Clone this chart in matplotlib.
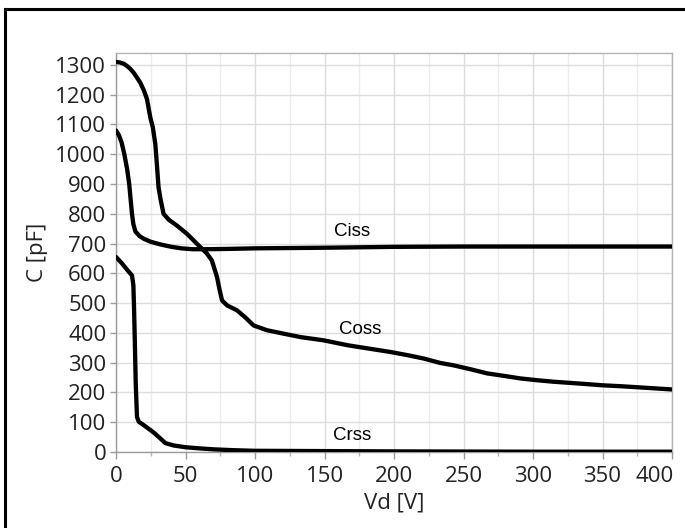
import matplotlib
matplotlib.use("Agg")
from matplotlib import pyplot as plt
from matplotlib.lines import Line2D
from matplotlib.ticker import MultipleLocator

# Ciss
ciss_v = [0, 2, 4, 6, 8, 9.5, 10.5, 11.5, 12.5, 14, 17, 20, 25, 32, 40, 47, 55,
          65, 80, 100, 150, 200, 250, 300, 350, 400]
ciss_c = [1080, 1065, 1040, 1000, 950, 900, 850, 800, 765, 740, 725, 716, 706, 697, 689, 684, 681,
          681, 682, 684, 686, 689, 690, 690, 690, 690]

# Coss
coss_v = [0, 3, 6, 8, 10, 12.7, 15, 17.5, 20, 22.3, 24.7, 26.5, 28.3, 29.5, 30.6, 32, 34.2,
          38, 43.9, 51, 58.3, 62, 65.5, 69, 72.7, 74.5, 76.3, 80, 87, 93, 99, 108.6,
          120, 132.6, 149.4, 167.3, 185, 197.3, 210, 221.3, 233.3, 242.9, 255, 267,
          280, 291, 303, 314.8, 327, 338.8, 350, 362.8, 380, 400]
coss_c = [1310, 1308, 1303, 1296, 1288, 1274, 1258, 1240, 1215, 1185, 1123, 1090, 1034, 960, 889, 850, 800,
          780, 760, 733, 699, 682, 666, 643, 587, 545, 509, 492, 476, 452, 425, 409,
          398, 386, 375, 358, 345, 336, 325, 314, 299, 291, 278, 264,
          255, 247, 241, 236, 232, 228, 224, 221, 216, 210]

# Crss
crss_v = [0, 4, 8, 11.5, 12.5, 13, 13.6, 14.2, 15.1, 16.3, 20, 24.7, 28, 32, 35.5, 41.4,
          50, 60.6, 70, 84.6, 100, 150, 200, 300, 400]
crss_c = [655, 635, 612, 593, 560, 480, 360, 230, 118, 102, 90, 74, 62, 45, 30, 22,
          16, 12, 9, 6, 4, 3, 2, 1, 1]

etiquetas = ["Ciss", "Coss", "Crss"]
pos_etiquetas = [(170, 740), (176, 412), (170, 54)]

x_ticks = list(range(0, 401, 50))
y_ticks = list(range(0, 1301, 100))

plt.rcParams['font.family'] = ['Open Sans', 'DejaVu Sans']

fig = plt.figure(figsize=(6.85, 5.28), dpi=100)
ax = fig.add_axes([116/685, 1 - 452/528, 556/685, 399/528])

for v, c in [(ciss_v, ciss_c), (coss_v, coss_c), (crss_v, crss_c)]:
    ax.plot(v, c, color='black', lw=3.1, solid_capstyle='round', zorder=3)

for txt, (x, y) in zip(etiquetas, pos_etiquetas):
    ax.text(x, y, txt, ha='center', va='center', fontsize=13.5,
            family='Liberation Sans', color='black', zorder=4)

ax.set_xlim(0, 400)
ax.set_ylim(0, 1340)
# la ultima etiqueta (400) se dibuja aparte, alineada a la derecha
ax.set_xticks(x_ticks, [str(t) for t in x_ticks[:-1]] + [''])
ax.xaxis.set_minor_locator(MultipleLocator(25))
ax.set_yticks(y_ticks)
ax.annotate(str(x_ticks[-1]), xy=(x_ticks[-1], 0), xycoords=('data', 'axes fraction'),
            xytext=(1, -10), textcoords='offset points', ha='right', va='top',
            fontsize=16, color='#222222')

ax.grid(True, which='major', color='#dcdcdc', lw=1)
ax.grid(True, which='minor', axis='x', color='#ececec', lw=1)
ax.set_axisbelow(True)

for s in ax.spines.values():
    s.set_color('#b4b4b4')
    s.set_linewidth(1)
ax.spines['bottom'].set_color('#9a9a9a')
ax.spines['left'].set_color('#9a9a9a')

ax.tick_params(axis='both', which='major', colors='#9a9a9a', labelcolor='#222222',
               labelsize=16, length=5, width=1)
ax.tick_params(axis='x', which='major', pad=5)
ax.tick_params(axis='x', which='minor', colors='#b4b4b4', length=3, width=1)
ax.tick_params(axis='y', which='major', pad=3, length=4)

ax.set_xlabel('Vd [V]', fontsize=16, color='#222222', labelpad=4)
ax.set_ylabel('C [pF]', fontsize=16, color='#222222', labelpad=5)

# marco de la figura (arriba e izquierda)
fig.add_artist(Line2D([5/685, 1], [1 - 9/528, 1 - 9/528], color='black', lw=2.2))
fig.add_artist(Line2D([5/685, 5/685], [0, 1 - 9/528], color='black', lw=2.2))

fig.savefig('out.png', dpi=100)
